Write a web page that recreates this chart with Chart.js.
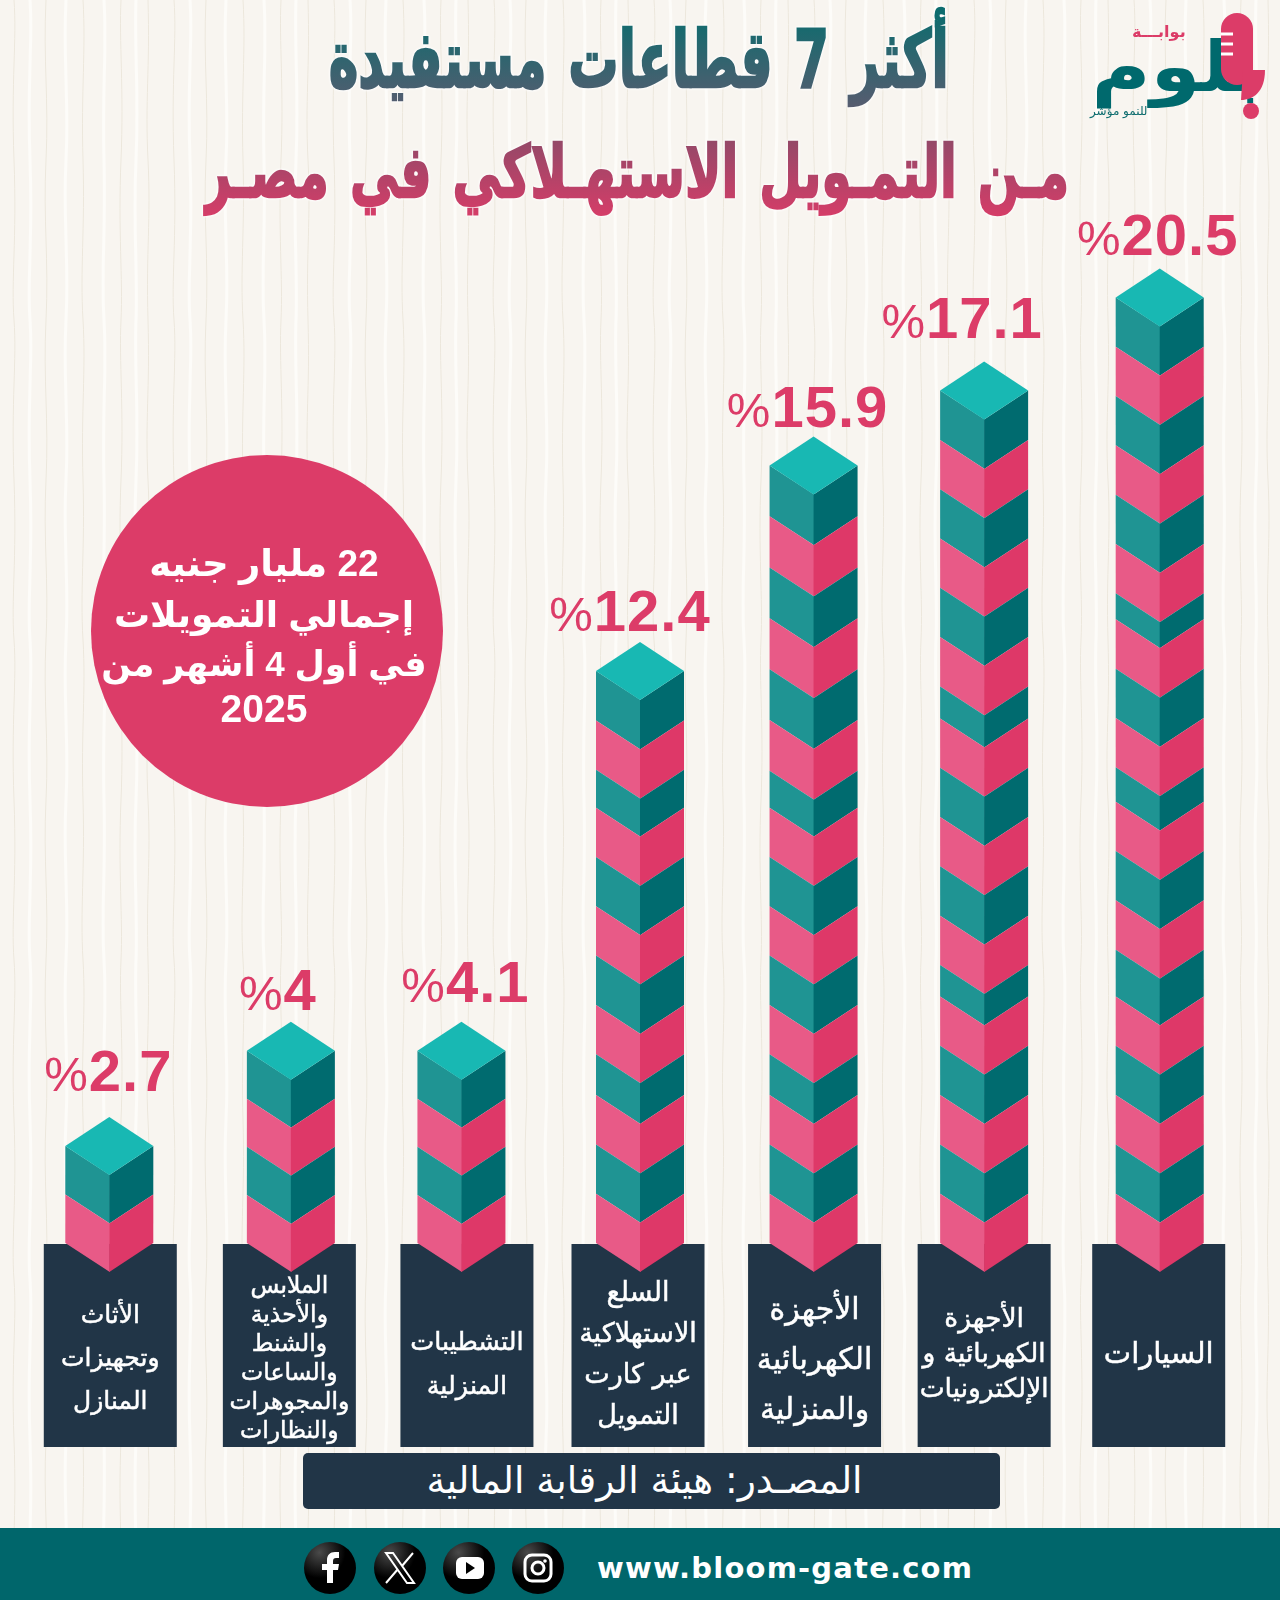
<!DOCTYPE html>
<html lang="ar">
<head>
  <meta charset="UTF-8" />
  <title>أكثر 7 قطاعات مستفيدة من التمويل الاستهلاكي في مصر</title>
  <script src="https://cdn.jsdelivr.net/npm/chart.js"></script>
  <style>
    html, body { margin: 0; padding: 0; }
    #page {
      position: relative; width: 1280px; height: 1600px; overflow: hidden;
      background-color: #f8f5f0;
      background-image: url("data:image/svg+xml,%3Csvg xmlns='http://www.w3.org/2000/svg' width='160' height='320'%3E%3Cg fill='none' stroke='%23ece7dc' stroke-width='1'%3E%3Cpath d='M14 0c3 40-3 80 0 160s-3 120 0 160'/%3E%3Cpath d='M46 0c-3 60 3 100 0 160s3 100 0 160'/%3E%3Cpath d='M83 0c3 50-2 90 0 160s-3 110 0 160'/%3E%3Cpath d='M121 0c-2 40 3 90 0 160s2 120 0 160'/%3E%3Cpath d='M148 0c2 70-3 100 0 160s-2 90 0 160'/%3E%3C/g%3E%3Cg fill='none' stroke='%23fdfcf9' stroke-width='3'%3E%3Cpath d='M30 0c3 40-3 80 0 160s-3 120 0 160'/%3E%3Cpath d='M66 0c-3 60 3 100 0 160s3 100 0 160'/%3E%3Cpath d='M104 0c3 50-2 90 0 160s-3 110 0 160'/%3E%3Cpath d='M136 0c-2 40 3 90 0 160s2 120 0 160'/%3E%3C/g%3E%3C/svg%3E");
      font-family: "Liberation Sans", "DejaVu Sans", sans-serif;
    }
    #chart { position: absolute; left: 0; top: 0; }
    .title {
      position: absolute; left: 0; width: 1280px; text-align: center; white-space: nowrap;
      font-family: "DejaVu Sans", sans-serif; font-weight: 700; direction: rtl;
      filter: drop-shadow(0 0 1px #fff) drop-shadow(0 0 1px #fff);
    }
    .title span {
      display: inline-block; -webkit-background-clip: text; background-clip: text; color: transparent;
      -webkit-text-stroke: 2px transparent; font-size: 62px; line-height: 120px; word-spacing: 5px;
    }
    #title1 { top: 0; transform: translateX(-1px); }
    #title1 span { background-image: linear-gradient(#0d6c6e 20%, #5c5b70 85%); transform: scale(0.81, 1.28); }
    #title2 { top: 113px; transform: translateX(-4px); }
    #title2 span { background-image: linear-gradient(#8c4a68 20%, #da3c68 85%); transform: scale(0.79, 1.16); }
    #note {
      position: absolute; left: 91px; top: 455px; width: 352px; height: 352px; border-radius: 50%;
      background: #dc3c68; color: #fff;
    }
    #note div { position: absolute; left: -3px; width: 352px; text-align: center; font-weight: 700; line-height: 48px; direction: rtl; white-space: nowrap; }
    #source {
      position: absolute; left: 303px; top: 1453px; width: 683px; height: 56px; padding-right: 14px; border-radius: 5px;
      background: #213547; color: #fff; text-align: center; font-family: "DejaVu Sans", sans-serif;
      font-size: 37.5px; line-height: 54px; direction: rtl; white-space: nowrap;
    }
    #footer { position: absolute; left: 0; top: 1528px; width: 1280px; height: 72px; background: #00666b; }
    #url {
      position: absolute; left: 597px; top: 1528px; color: #fff; font-family: "DejaVu Sans", sans-serif;
      font-weight: 700; font-size: 29px; line-height: 80px; letter-spacing: 1.2px; white-space: nowrap;
    }
    #icons { position: absolute; left: 0; top: 1528px; }
    #logoA { position: absolute; left: 1132px; top: 22px; font: 700 16px "DejaVu Sans"; color: #dc3c68; direction: rtl; }
    #logoB { position: absolute; left: 1090px; top: 104px; font: 400 12px "DejaVu Sans"; color: #0d6c6e; direction: rtl; }
    #logoC {
      position: absolute; left: 1092px; top: 22px; width: 172px; text-align: right; font: 700 70px/90px "DejaVu Sans";
      color: #00696d; direction: rtl; white-space: nowrap; transform: scaleX(1.15); transform-origin: right center;
    }
  </style>
</head>
<body>
<div id="page">
  <canvas id="chart" width="1280" height="1600"></canvas>

  <div class="title" id="title1"><span>أكثر 7 قطاعات مستفيدة</span></div>
  <div class="title" id="title2"><span>مـن التمـويل الاستهـلاكي في مصـر</span></div>

  <div id="note">
    <div style="top:85px;font-size:37px">22 مليار جنيه</div>
    <div style="top:136px;font-size:36px">إجمالي التمويلات</div>
    <div style="top:185px;font-size:35px">في أول 4 أشهر من</div>
    <div style="top:230px;font-size:39px;left:-3px">2025</div>
  </div>

  <div id="source">المصـدر: هيئة الرقابة المالية</div>

  <div id="footer"></div>
  <svg id="icons" width="600" height="72">
    <defs><radialGradient id="gloss" cx="0.3" cy="0.2" r="0.9"><stop offset="0" stop-color="#4a4a4a"/><stop offset="0.55" stop-color="#000"/></radialGradient></defs>
    <g fill="url(#gloss)"><circle cx="330" cy="40" r="26"/><circle cx="400" cy="40" r="26"/><circle cx="469" cy="40" r="26"/><circle cx="538" cy="40" r="26"/></g>
    <path d="M327 55V42h-5v-6h5v-4c0-5 3-8 8-8h4v6h-3c-2 0-3 1-3 3v3h6l-1 6h-5v13z" fill="#fff"/>
    <path d="M386 25h7l21 30h-7zM413 25l-11 13M386 55l12-14" fill="none" stroke="#fff" stroke-width="2"/>
    <rect x="456" y="29" width="28" height="22" rx="6" fill="#fff"/><path d="M466 34l9 6-9 6z" fill="#000"/>
    <rect x="525" y="27" width="26" height="26" rx="7" fill="none" stroke="#fff" stroke-width="3"/><circle cx="538" cy="40" r="6" fill="none" stroke="#fff" stroke-width="3"/><circle cx="545" cy="33" r="1.8" fill="#fff"/>
  </svg>
  <div id="url">www.bloom-gate.com</div>

  <div id="logoC">بلوم</div>
  <svg style="position:absolute;left:1215px;top:10px" width="60" height="112">
    <rect x="6" y="3" width="32" height="72" rx="16" fill="#dc3c68"/>
    <path d="M6 24h12M6 34h12M6 44h12" stroke="#fff" stroke-width="3"/>
    <path d="M28 60h22c0 22-12 30-24 30z" fill="#dc3c68"/>
    <circle cx="36" cy="101" r="8" fill="#dc3c68"/>
  </svg>
  <div id="logoA">بوابـــة</div>
  <div id="logoB">للنمو مؤشر</div>
</div>

<script>
  // Categories, left to right as printed
  const categories = [
    ['الأثاث', 'وتجهيزات', 'المنازل'],
    ['الملابس', 'والأحذية', 'والشنط', 'والساعات', 'والمجوهرات', 'والنظارات'],
    ['التشطيبات', 'المنزلية'],
    ['السلع', 'الاستهلاكية', 'عبر كارت', 'التمويل'],
    ['الأجهزة', 'الكهربائية', 'والمنزلية'],
    ['الأجهزة', 'الكهربائية و', 'الإلكترونيات'],
    ['السيارات']
  ];

  // Printed shares (%)
  const values = [2.7, 4, 4.1, 12.4, 15.9, 17.1, 20.5];

  // The columns are pictograms: their height is a pile of blocks, not proportional
  // to the printed share. Block sizes, bottom block first.
  const blocksFurniture = [0.985, 0.985];
  const blocksClothing = [0.975, 0.975, 0.975, 0.975];
  const blocksFinishing = [0.975, 0.975, 0.975, 0.975];
  const blocksCards = [1, 1, 1, 0.83, 1, 1, 1, 1, 1, 0.77, 1, 1];
  const blocksAppliances = [1, 1, 1, 0.83, 1, 1, 1, 1, 1, 0.75, 1.03, 1.03, 1.03, 1.03, 1.04, 1.03];
  const blocksElectronics = [1, 1, 1, 1, 1, 0.64, 1, 1, 1, 1, 1, 0.65, 1, 1, 1, 1, 1, 1];
  const blocksCars = [1, 1, 1, 1, 1, 0.95, 1, 1, 1, 0.7, 1, 1, 1, 0.53, 1, 1, 1, 1, 1, 1];
  const columns = [blocksFurniture, blocksClothing, blocksFinishing, blocksCards, blocksAppliances, blocksElectronics, blocksCars];

  // Layout and label styling per column
  const columnNudge = [-1, 3.5, 6.5, 3, 5, 0, 0];
  const barShift = [-1, 1.5, -5.5, 2, -1, 0, 1];
  const tickFontSizes = [25, 23.5, 25.5, 27, 30, 26.5, 29];
  const tickLineHeights = [43, 29, 44, 41, 50, 35, 40];
  const tickDrop = [22, 15, 28, 17, 27, 14, 16];
  const labelShiftX = [-1, -13, 4, -10, -6, -22, -2];
  const labelLift = [26, 12, 20, 11, 10, 24, 13];

  const TEAL = { left: '#1f9493', right: '#006b6f' };
  const PINK = { left: '#e85a87', right: '#de3868' };
  const TOP_FACE = '#18b8b3';
  const BOX = '#213547';
  const RED_TEXT = '#dc3c68';
  const SKEW = 29;

  // Category axis whose columns and labels sit where the picture has them
  class PlacedCategoryScale extends Chart.CategoryScale {
    getPixelForValue(value, index) {
      const i = typeof value === 'number' ? value : this.parse(value);
      return super.getPixelForValue(value, index) + columnNudge[Math.round(i)];
    }
    _computeLabelItems(chartArea) {
      const items = super._computeLabelItems(chartArea);
      items.forEach((item, i) => { item.options.translation[1] += tickDrop[i]; });
      return items;
    }
  }
  PlacedCategoryScale.id = 'placedCategory';
  PlacedCategoryScale.defaults = Chart.CategoryScale.defaults;
  Chart.register(PlacedCategoryScale);

  const layerCount = Math.max(...columns.map(c => c.length));
  const datasets = [];
  for (let i = 0; i < layerCount; i++) {
    const face = i % 2 === 0 ? PINK : TEAL;
    datasets.push({
      label: 'layer ' + (i + 1),
      data: columns.map(c => (i < c.length ? c[i] : null)),
      backgroundColor: face.left,
      faceRight: face.right,
      barThickness: 88
    });
  }

  function poly(ctx, pts, color) {
    ctx.fillStyle = color;
    ctx.beginPath();
    pts.forEach((p, i) => (i ? ctx.lineTo(p[0], p[1]) : ctx.moveTo(p[0], p[1])));
    ctx.closePath();
    ctx.fill();
  }

  // Dark boxes under the axis labels
  const labelBoxes = {
    id: 'labelBoxes',
    beforeDraw(chart) {
      const ctx = chart.ctx;
      const xs = chart.scales.x;
      const base = chart.scales.y.getPixelForValue(0);
      ctx.save();
      ctx.fillStyle = BOX;
      categories.forEach((c, i) => {
        ctx.fillRect(xs.getPixelForTick(i) - 66.5, base - 28, 133, 203);
      });
      ctx.restore();
    }
  };

  // Each bar element is painted as two faces of an isometric block
  const isoBlocks = {
    id: 'isoBlocks',
    beforeDatasetDraw(chart, args) {
      const ctx = chart.ctx;
      const ds = chart.data.datasets[args.index];
      args.meta.data.forEach((bar, i) => {
        if (ds.data[i] == null) return;
        const { x: bx, y, base, width } = bar.getProps(['x', 'y', 'base', 'width'], true);
        const x = bx + barShift[i];
        const h = width / 2;
        poly(ctx, [[x - h, y - SKEW], [x + 0.5, y], [x + 0.5, base], [x - h, base - SKEW]], ds.backgroundColor);
        poly(ctx, [[x + h, y - SKEW], [x, y], [x, base], [x + h, base - SKEW]], ds.faceRight);
      });
      return false;
    },
    afterDatasetsDraw(chart) {
      const ctx = chart.ctx;
      const ys = chart.scales.y;
      const xs = chart.scales.x;
      columns.forEach((col, i) => {
        const total = col.reduce((a, b) => a + b, 0);
        const y = ys.getPixelForValue(total);
        const x = xs.getPixelForTick(i) + barShift[i];
        const h = 44;
        poly(ctx, [[x, y], [x + h, y - SKEW], [x, y - 2 * SKEW], [x - h, y - SKEW]], TOP_FACE);

        // value label: bold number with a lighter % sign on its left
        const num = String(values[i]);
        const lx = x + labelShiftX[i];
        const ly = y - 2 * SKEW - labelLift[i];
        ctx.save();
        ctx.fillStyle = RED_TEXT;
        ctx.textBaseline = 'alphabetic';
        ctx.textAlign = 'left';
        ctx.direction = 'ltr';
        ctx.letterSpacing = '1px';
        ctx.font = 'bold 58px "Liberation Sans"';
        const nw = ctx.measureText(num).width;
        ctx.font = '400 49px "Liberation Sans"';
        const pw = ctx.measureText('%').width;
        const left = lx - (nw + pw) / 2;
        ctx.fillText('%', left, ly);
        ctx.font = 'bold 58px "Liberation Sans"';
        ctx.fillText(num, left + pw, ly);
        ctx.restore();
      });
    }
  };

  new Chart(document.getElementById('chart'), {
    type: 'bar',
    data: { labels: categories, datasets: datasets },
    plugins: [labelBoxes, isoBlocks],
    options: {
      responsive: false,
      animation: false,
      layout: { padding: { left: 24, right: 34, top: 286, bottom: 153 } },
      plugins: { legend: { display: false }, tooltip: { enabled: false } },
      scales: {
        x: {
          type: 'placedCategory',
          stacked: true,
          offset: true,
          border: { display: false },
          grid: { display: false, drawTicks: false },
          afterFit(scale) { scale.height = 175; },
          ticks: {
            padding: 0,
            maxRotation: 0,
            autoSkip: false,
            crossAlign: 'center',
            color: '#ffffff',
            textStrokeColor: '#ffffff',
            textStrokeWidth: 0.5,
            font: ctx => ({
              family: '"DejaVu Sans"',
              size: tickFontSizes[ctx.index],
              weight: 'normal',
              lineHeight: tickLineHeights[ctx.index] + 'px'
            })
          }
        },
        y: { stacked: true, display: false, min: 0, max: 20 }
      }
    }
  });
</script>
</body>
</html>
